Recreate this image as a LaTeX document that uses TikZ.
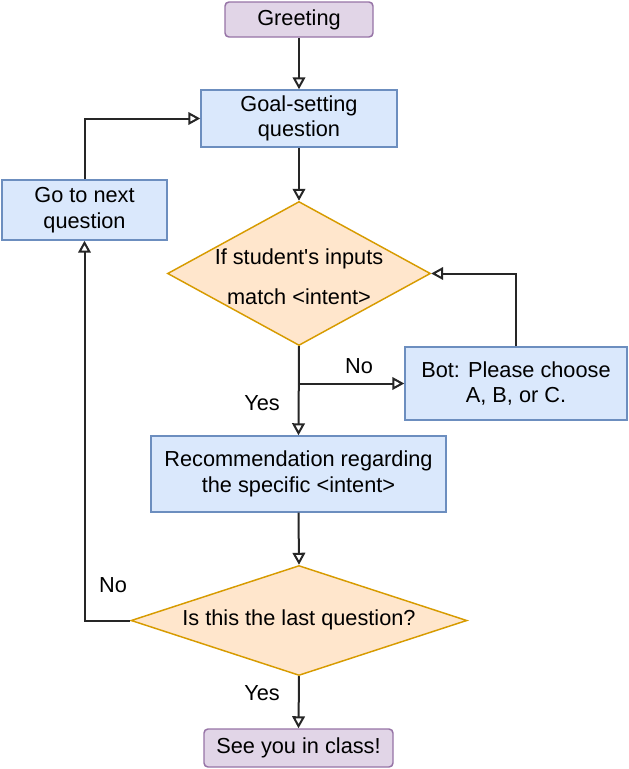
\documentclass[tikz,border=0pt]{standalone}
\usepackage{fontspec}
\setmainfont{Liberation Sans}[Ligatures=TeXOff]
\usetikzlibrary{arrows.meta,shapes.geometric}
\definecolor{bfill}{HTML}{DAE8FC}
\definecolor{bdraw}{HTML}{6C8EBF}
\definecolor{ofill}{HTML}{FFE6CC}
\definecolor{odraw}{HTML}{D79B00}
\definecolor{pfill}{HTML}{E1D5E7}
\definecolor{pdraw}{HTML}{9673A6}
\begin{document}
\begin{tikzpicture}[x=0.75pt,y=-0.75pt,
  font=\fontsize{16.3pt}{19pt}\selectfont,
  bluebox/.style={draw=bdraw,fill=bfill,line width=1.1pt,align=center,inner sep=0pt},
  purplebox/.style={draw=pdraw,fill=pfill,line width=1.1pt,rounded corners=3pt,align=center,inner sep=0pt},
  decision/.style={diamond,draw=odraw,fill=ofill,line width=1.1pt,inner sep=0pt},
  conn/.style={line width=1.5pt,draw=black!85,-{Triangle[open,length=9pt,width=9.5pt]}},
  lbl/.style={inner sep=0pt}]
\useasboundingbox (0,0) rectangle (629,769);

\node[purplebox,minimum width=111pt,minimum height=26.25pt] (greet) at (299,19.5) {Greeting};
\node[bluebox,minimum width=147pt,minimum height=42.75pt] (goal) at (299,118.5) {Goal-setting\\question};
\node[bluebox,minimum width=123.75pt,minimum height=45pt] (go) at (84.5,210) {Go to next\\question};
\node[decision,minimum width=197.25pt,minimum height=108pt] (d1) at (299,273.5) {};
\node[lbl,align=center,font=\fontsize{16.3pt}{30pt}\selectfont] (d1t) at (299,277) {If student's inputs\\match <intent>};
\node[bluebox,minimum width=166.5pt,minimum height=54.75pt] (bot) at (516,383.5) {Bot: Please choose\\A, B, or C.};
\node[bluebox,minimum width=221.25pt,minimum height=57pt] (rec) at (298.5,474) {Recommendation regarding\\the specific <intent>};
\node[decision,minimum width=252pt,minimum height=82.5pt] (d2) at (299,620.5) {};
\node[lbl] (d2t) at (299,620) {Is this the last question?};
\node[purplebox,minimum width=141.75pt,minimum height=28.5pt] (see) at (298.5,748) {See you in class!};

\node[lbl] (no1) at (359,366) {No};
\node[lbl] (yes1) at (262,403) {Yes};
\node[lbl] (no2) at (113,585) {No};
\node[lbl] (yes2) at (262,693) {Yes};

\coordinate (br) at (d1.south |- bot.west);

\draw[conn] (greet.south) -- (goal.north);
\draw[conn] (goal.south) -- (d1.north);
\draw[conn] (d1.south) -- (rec.north);
\draw[conn] (br) -- (bot.west);
\draw[conn] (bot.north) |- (d1.east);
\draw[conn] (rec.south) -- (d2.north);
\draw[conn] (d2.west) -| (go.south);
\draw[conn] (go.north) |- (goal.west);
\draw[conn] (d2.south) -- (see.north);
\end{tikzpicture}
\end{document}
